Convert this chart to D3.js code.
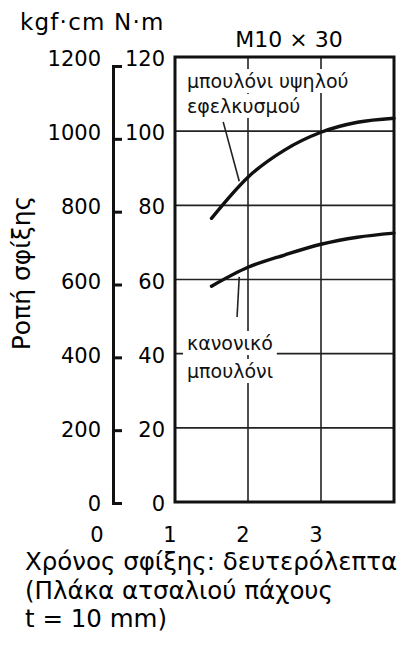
<!DOCTYPE html>
<html>
<head>
<meta charset="utf-8">
<script src="https://cdn.jsdelivr.net/npm/d3@7"></script>
<style>
  body { margin: 0; background: #fff; }
  svg { display: block; font-family: "DejaVu Sans", sans-serif; }
</style>
</head>
<body>
<script>
// Data
const timeTicks = [0, 1, 2, 3];
const kgfTicks = [0, 200, 400, 600, 800, 1000, 1200];
const nmTicks = [0, 20, 40, 60, 80, 100, 120];
const seconds = [1.5, 2, 2.5, 3, 3.5, 4];
const highTensile = [76.5, 87.6, 94.9, 99.7, 102.4, 103.5]; // N·m
const normalBolt = [58.2, 63.3, 66.6, 69.5, 71.4, 72.5];    // N·m

const width = 403, height = 654;

const svg = d3.select("body").append("svg")
    .attr("width", width)
    .attr("height", height);

// Scales
const x = d3.scaleLinear().domain([1, 4]).range([175, 394]);
const y = d3.scaleLinear().domain([0, 120]).range([502, 57]);
// the separate left axis bar sits a bit lower than the plot box
const yBar = d3.scaleLinear().domain([0, 120]).range([503, 66]);

// Left scale bar with ticks pointing right
svg.append("g")
    .attr("transform", "translate(113,0)")
    .call(d3.axisRight(yBar).tickValues(nmTicks).tickSize(9).tickFormat(""))
    .call(g => g.selectAll("path, line").attr("stroke", "#111").attr("stroke-width", 3));

// Tick labels: kgf·cm (left) and N·m (right)
svg.append("g").selectAll("text")
    .data(kgfTicks)
    .join("text")
    .attr("x", 101)
    .attr("y", d => y(d / 10) + 9)
    .attr("text-anchor", "end")
    .attr("font-size", 21)
    .text(d => d);

svg.append("g").selectAll("text")
    .data(nmTicks)
    .join("text")
    .attr("x", 165)
    .attr("y", d => y(d) + 9)
    .attr("text-anchor", "end")
    .attr("font-size", 21)
    .text(d => d);

// Time labels
svg.append("g").selectAll("text")
    .data(timeTicks)
    .join("text")
    .attr("x", d => x(d) - 5)
    .attr("y", 542)
    .attr("text-anchor", "middle")
    .attr("font-size", 21)
    .text(d => d);

// Grid
const grid = svg.append("g").attr("stroke", "#222").attr("stroke-width", 1.6);
grid.selectAll("line.h")
    .data(nmTicks.slice(1, -1))
    .join("line")
    .attr("class", "h")
    .attr("x1", x(1)).attr("x2", x(4))
    .attr("y1", d => y(d)).attr("y2", d => y(d));
grid.selectAll("line.v")
    .data([2, 3])
    .join("line")
    .attr("class", "v")
    .attr("x1", d => x(d)).attr("x2", d => x(d))
    .attr("y1", y(120)).attr("y2", y(0));

// Annotations with white backing boxes
const notes = [
    { lines: ["μπουλόνι υψηλού", "εφελκυσμού"], x: 187, y: 88, step: 25 },
    { lines: ["κανονικό", "μπουλόνι"], x: 187, y: 350, step: 28 }
];
const noteG = svg.append("g");
notes.forEach(n => {
    n.lines.forEach((t, i) => {
        const txt = noteG.append("text")
            .attr("x", n.x)
            .attr("y", n.y + i * n.step)
            .attr("font-size", 19)
            .attr("fill", "#111")
            .text(t);
        const b = txt.node().getBBox();
        noteG.insert("rect", "text")
            .attr("x", b.x - 4).attr("y", b.y - 1)
            .attr("width", b.width + 8).attr("height", b.height + 2)
            .attr("fill", "#fff");
    });
});

// Leader lines
const leaders = [
    [[1.66, 102.5], [1.88, 86.5]],
    [[1.88, 60.7], [1.85, 49.9]]
];
svg.append("g").selectAll("line")
    .data(leaders)
    .join("line")
    .attr("x1", d => x(d[0][0])).attr("y1", d => y(d[0][1]))
    .attr("x2", d => x(d[1][0])).attr("y2", d => y(d[1][1]))
    .attr("stroke", "#222")
    .attr("stroke-width", 1.6);

// Curves
const line = d3.line()
    .x((d, i) => x(seconds[i]))
    .y(d => y(d))
    .curve(d3.curveMonotoneX);
svg.append("g").selectAll("path")
    .data([highTensile, normalBolt])
    .join("path")
    .attr("d", line)
    .attr("fill", "none")
    .attr("stroke", "#111")
    .attr("stroke-width", 3.4)
    .attr("stroke-linecap", "round");

// Plot frame
svg.append("rect")
    .attr("x", x(1)).attr("y", y(120))
    .attr("width", x(4) - x(1)).attr("height", y(0) - y(120))
    .attr("fill", "none")
    .attr("stroke", "#111")
    .attr("stroke-width", 3);

// Titles
svg.append("text")
    .attr("x", 20).attr("y", 30)
    .attr("font-size", 23)
    .attr("letter-spacing", 1.2)
    .text("kgf·cm N·m");

svg.append("text")
    .attr("x", 289).attr("y", 47)
    .attr("text-anchor", "middle")
    .attr("font-size", 22)
    .text("M10 × 30");

svg.append("text")
    .attr("transform", "translate(30,273) rotate(-90)")
    .attr("text-anchor", "middle")
    .attr("font-size", 25)
    .text("Ροπή σφίξης");

svg.append("g").selectAll("text")
    .data(["Χρόνος σφίξης: δευτερόλεπτα", "(Πλάκα ατσαλιού πάχους", "t = 10 mm)"])
    .join("text")
    .attr("x", 25)
    .attr("y", (d, i) => [570, 599, 627][i])
    .attr("font-size", 24.5)
    .text(d => d);
</script>
</body>
</html>
